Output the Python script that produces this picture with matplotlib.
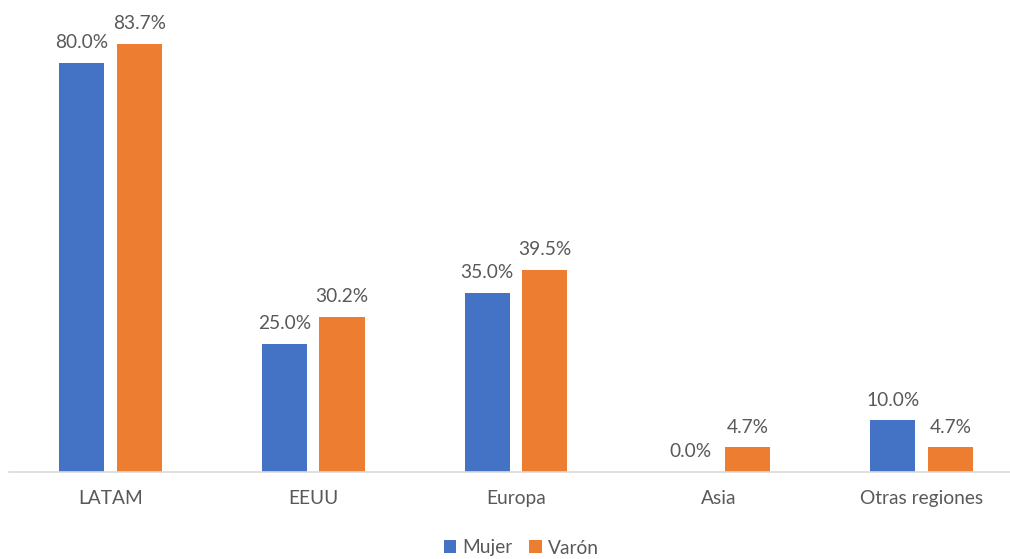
import numpy as np
import matplotlib.pyplot as plt

plt.rcParams['font.family'] = ['Lato', 'DejaVu Sans']

regions = ['LATAM', 'EEUU', 'Europa', 'Asia', 'Otras regiones']
mujer = [80.0, 25.0, 35.0, 0.0, 10.0]
varon = [83.7, 30.2, 39.5, 4.7, 4.7]

c_mujer = '#4472C4'
c_varon = '#ED7D31'
txt = '#595959'
fs = 13.8

fig = plt.figure(figsize=(10.10, 5.59), dpi=100)
ax = fig.add_axes([9 / 1010, 87.5 / 559, 1014 / 1010, 459.6 / 559])

x = np.arange(len(regions))
w = 0.222
off = 0.142
b1 = ax.bar(x - off, mujer, w, color=c_mujer, label='Mujer')
b2 = ax.bar(x + off, varon, w, color=c_varon, label='Varón')

for bars, vals in ((b1, mujer), (b2, varon)):
    for b, v in zip(bars, vals):
        ax.annotate(f'{v:.1f}%', (b.get_x() + b.get_width() / 2, v),
                    xytext=(0, 8.5), textcoords='offset points',
                    ha='center', va='bottom', fontsize=fs, color=txt)

ax.set_xlim(-0.5, 4.5)
ax.set_ylim(0, 90)
ax.set_xticks(x)
ax.set_xticklabels(regions, fontsize=fs, color=txt)
ax.tick_params(axis='x', length=0, pad=13)
ax.set_yticks([])
for s in ('top', 'right', 'left'):
    ax.spines[s].set_visible(False)
ax.spines['bottom'].set_color('#D9D9D9')
ax.spines['bottom'].set_linewidth(1.2)

fig.legend(handles=[b1, b2], loc='center', bbox_to_anchor=(521 / 1010, 1 - 548 / 559),
           ncol=2, frameon=False, fontsize=fs, handlelength=0.65, handleheight=0.65,
           handletextpad=0.3, columnspacing=0.9, labelcolor=txt)

fig.savefig('out.png', dpi=100)
